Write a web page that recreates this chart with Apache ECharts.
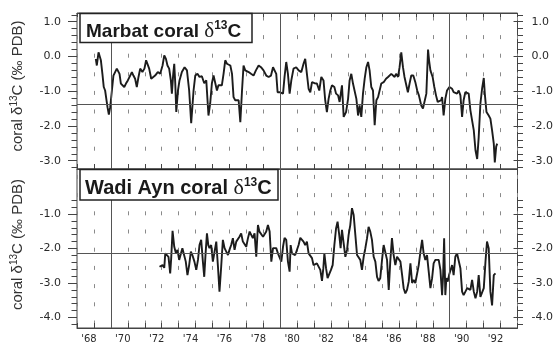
<!DOCTYPE html>
<html><head><meta charset="utf-8">
<script src="https://cdn.jsdelivr.net/npm/echarts@6/dist/echarts.min.js"></script>
<style>html,body{margin:0;padding:0;background:#fff}#c{width:556px;height:345px}</style>
</head><body><div id="c"></div><script>
// ---- data ----
const marbatYears = [
1968.11,1968.17,1968.27,1968.35,1968.41,1968.50,1968.58,1968.66,1968.72,1968.80,
1968.88,1968.96,1969.06,1969.15,1969.25,1969.35,1969.45,1969.51,1969.59,1969.69,
1969.79,1969.89,1970.00,1970.14,1970.24,1970.33,1970.43,1970.53,1970.63,1970.73,
1970.86,1970.98,1971.08,1971.18,1971.26,1971.38,1971.48,1971.61,1971.77,1971.91,
1972.05,1972.15,1972.25,1972.34,1972.44,1972.54,1972.60,1972.68,1972.74,1972.80,
1972.86,1972.96,1973.05,1973.19,1973.35,1973.49,1973.62,1973.74,1973.88,1973.98,
1974.11,1974.23,1974.37,1974.51,1974.63,1974.76,1974.86,1974.96,1975.06,1975.16,
1975.26,1975.35,1975.45,1975.55,1975.65,1975.75,1975.85,1975.94,1976.05,1976.15,
1976.24,1976.34,1976.44,1976.54,1976.64,1976.74,1976.83,1976.93,1977.03,1977.13,
1977.27,1977.42,1977.56,1977.72,1977.86,1978.01,1978.17,1978.31,1978.45,1978.57,
1978.66,1978.76,1978.84,1978.96,1979.06,1979.16,1979.25,1979.35,1979.45,1979.55,
1979.65,1979.78,1979.94,1980.08,1980.24,1980.37,1980.47,1980.57,1980.67,1980.77,
1980.87,1981.02,1981.16,1981.30,1981.42,1981.55,1981.65,1981.75,1981.85,1981.95,
1982.05,1982.19,1982.29,1982.41,1982.50,1982.64,1982.74,1982.88,1983.00,1983.09,
1983.19,1983.29,1983.39,1983.49,1983.59,1983.68,1983.78,1983.88,1983.98,1984.08,
1984.18,1984.27,1984.37,1984.47,1984.57,1984.67,1984.77,1984.86,1984.96,1985.10,
1985.24,1985.36,1985.45,1985.55,1985.65,1985.75,1985.83,1985.95,1986.04,1986.14,
1986.24,1986.33,1986.43,1986.53,1986.63,1986.73,1986.85,1986.97,1987.08,1987.18,
1987.32,1987.42,1987.52,1987.62,1987.72,1987.78,1987.86,1987.92,1987.99,1988.09,
1988.19,1988.29,1988.39,1988.49,1988.55,1988.64,1988.74,1988.84,1988.98,1989.14,
1989.23,1989.33,1989.43,1989.53,1989.63,1989.73,1989.82,1989.92,1990.03,1990.12,
1990.22,1990.32,1990.42,1990.52,1990.62,1990.71,1990.81,1990.91,1991.01,1991.07,
1991.17,1991.30,1991.40,1991.50,1991.60,1991.66,1991.74,1991.80];
const marbatD13C = [
-0.07,-0.26,0.12,0.17,-0.11,-0.50,-0.88,-0.98,-0.93,-1.46,
-1.67,-1.46,-0.98,-0.55,-0.50,-0.35,-0.31,-0.50,-0.78,-0.74,
-0.88,-0.78,-0.69,-0.55,-0.45,-0.55,-0.64,-0.88,-0.59,-0.35,
-0.45,-0.35,-0.11,-0.16,-0.35,-0.64,-0.69,-0.55,-0.45,-0.50,
-0.26,0.03,-0.07,-0.26,-0.35,-0.69,-1.07,-0.50,-0.21,-0.78,
-1.60,-0.98,-0.69,-0.45,-0.31,-0.40,-0.98,-1.92,-0.98,-0.55,
-0.50,-0.59,-0.57,-0.77,-0.69,-1.70,-1.36,-0.78,-0.55,-0.50,
-0.98,-0.83,-0.88,-0.83,-0.50,-0.11,-0.21,-0.16,-0.26,-0.50,
-1.17,-1.26,-1.22,-1.26,-1.89,-0.98,-0.26,-0.40,-0.35,-0.45,
-0.50,-0.55,-0.40,-0.26,-0.31,-0.40,-0.55,-0.59,-0.55,-0.31,
-0.26,-0.50,-1.03,-1.03,-0.98,-1.07,-0.59,-0.16,-0.50,-1.07,
-0.69,-0.35,-0.31,-0.40,-0.45,-0.21,-0.07,-0.50,-0.93,-1.03,
-0.74,-0.77,-0.78,-0.98,-0.59,-0.69,-1.26,-1.60,-1.22,-0.98,
-0.83,-0.88,-1.07,-1.12,-1.31,-0.83,-1.74,-1.60,-1.22,-0.69,
-0.50,-0.78,-0.83,-1.22,-1.70,-1.41,-1.74,-1.07,-0.64,-0.31,
-0.16,-0.40,-0.88,-0.98,-1.98,-1.26,-1.17,-1.12,-0.78,-0.74,
-0.64,-0.59,-0.55,-0.50,-0.45,-0.59,-0.50,-0.59,-0.31,0.12,
-0.31,-0.59,-0.64,-1.03,-0.78,-0.55,-0.55,-0.74,-0.98,-1.12,
-1.41,-1.50,-1.50,-1.07,0.20,-0.11,-0.40,-0.35,-0.59,-0.88,
-1.12,-1.31,-1.36,-1.26,-1.17,-1.70,-1.22,-0.98,-0.88,-0.93,
-1.03,-0.98,-1.07,-0.98,-1.12,-1.74,-1.26,-1.03,-0.98,-1.07,
-1.55,-1.60,-2.13,-2.70,-2.95,-2.32,-1.36,-0.93,-0.62,-1.07,
-1.60,-1.70,-1.79,-2.13,-2.51,-3.05,-2.60,-2.51];

const wadiYears = [
1971.87,1971.95,1972.05,1972.15,1972.21,1972.31,1972.40,1972.50,1972.56,1972.64,
1972.74,1972.84,1972.93,1973.03,1973.13,1973.22,1973.32,1973.42,1973.52,1973.62,
1973.72,1973.81,1973.93,1974.04,1974.14,1974.23,1974.33,1974.43,1974.51,1974.59,
1974.67,1974.75,1974.82,1974.92,1975.02,1975.12,1975.22,1975.32,1975.41,1975.51,
1975.61,1975.71,1975.81,1975.91,1976.00,1976.10,1976.20,1976.30,1976.40,1976.50,
1976.59,1976.69,1976.79,1976.89,1976.99,1977.09,1977.19,1977.29,1977.38,1977.48,
1977.58,1977.68,1977.77,1977.87,1977.98,1978.07,1978.17,1978.27,1978.37,1978.47,
1978.57,1978.66,1978.76,1978.86,1978.96,1979.06,1979.16,1979.25,1979.35,1979.45,
1979.55,1979.61,1979.69,1979.78,1979.88,1979.98,1980.08,1980.18,1980.28,1980.37,
1980.47,1980.57,1980.67,1980.77,1980.87,1980.96,1981.06,1981.16,1981.26,1981.36,
1981.46,1981.54,1981.60,1981.70,1981.79,1981.89,1981.99,1982.09,1982.19,1982.29,
1982.38,1982.48,1982.56,1982.64,1982.74,1982.84,1982.94,1983.03,1983.13,1983.23,
1983.33,1983.43,1983.53,1983.62,1983.72,1983.82,1983.92,1984.02,1984.12,1984.21,
1984.31,1984.41,1984.51,1984.61,1984.71,1984.80,1984.90,1985.01,1985.10,1985.20,
1985.30,1985.40,1985.49,1985.59,1985.69,1985.79,1985.89,1985.99,1986.09,1986.19,
1986.28,1986.38,1986.48,1986.58,1986.68,1986.78,1986.87,1986.97,1987.07,1987.17,
1987.27,1987.37,1987.46,1987.56,1987.66,1987.76,1987.86,1987.96,1988.05,1988.15,
1988.25,1988.35,1988.45,1988.55,1988.61,1988.67,1988.74,1988.80,1988.88,1988.96,
1989.04,1989.14,1989.23,1989.33,1989.43,1989.53,1989.63,1989.73,1989.82,1989.92,
1990.03,1990.12,1990.22,1990.32,1990.42,1990.52,1990.62,1990.71,1990.81,1990.91,
1991.01,1991.11,1991.20,1991.30,1991.40,1991.50,1991.60,1991.70];
const wadiD13C = [
-2.53,-2.57,-2.48,-2.56,-2.14,-2.09,-2.24,-2.72,-2.28,-1.49,
-1.95,-2.14,-2.04,-2.33,-2.38,-1.99,-1.98,-2.38,-2.77,-2.48,
-2.09,-2.19,-2.38,-2.62,-2.33,-1.90,-1.75,-2.38,-2.82,-2.14,
-1.56,-1.90,-1.99,-1.90,-2.38,-2.09,-1.80,-2.53,-3.25,-2.53,
-1.75,-1.99,-2.09,-2.19,-2.04,-1.90,-1.70,-2.04,-1.80,-1.85,
-1.66,-1.56,-1.80,-1.75,-1.95,-1.70,-1.51,-1.61,-1.70,-1.56,
-2.24,-1.32,-1.51,-1.46,-1.66,-1.70,-1.51,-1.32,-1.51,-2.38,
-1.99,-2.04,-1.99,-2.14,-2.19,-2.38,-1.95,-1.69,-1.75,-2.38,
-2.67,-1.90,-2.14,-2.09,-2.19,-2.14,-1.90,-1.69,-1.66,-1.80,
-1.90,-1.80,-2.14,-2.19,-2.28,-2.48,-2.53,-2.43,-2.38,-2.62,
-2.94,-2.57,-2.14,-2.57,-2.86,-2.91,-2.62,-2.48,-1.90,-1.42,
-1.22,-1.61,-1.99,-1.46,-1.85,-2.24,-2.04,-1.61,-1.32,-0.83,
-1.03,-1.61,-2.19,-2.14,-2.33,-2.62,-2.24,-1.99,-1.70,-1.37,
-1.51,-1.75,-2.24,-2.38,-2.82,-2.94,-2.86,-2.30,-1.90,-1.85,
-2.33,-3.20,-2.38,-1.70,-2.19,-2.48,-2.24,-2.28,-2.38,-2.77,
-3.15,-3.30,-3.20,-2.96,-2.43,-3.00,-2.91,-3.00,-2.96,-2.48,
-2.09,-1.75,-2.14,-2.33,-2.19,-2.67,-3.15,-2.86,-2.43,-2.33,
-2.38,-2.33,-2.62,-3.35,-2.77,-1.70,-3.35,-2.86,-2.96,-2.77,
-2.82,-2.48,-2.77,-2.24,-2.14,-2.14,-2.57,-3.25,-3.35,-3.30,
-3.15,-3.10,-3.20,-2.91,-3.25,-3.44,-3.25,-2.77,-3.40,-3.44,
-3.15,-2.38,-1.80,-1.99,-3.25,-3.65,-2.77,-2.72];

const xLabelYears = [1968,1970,1972,1974,1976,1978,1980,1982,1984,1986,1988,1990,1992];
const solidYears = [1969, 1979, 1989];
const marbatRef = -1.38;
const wadiRef = -2.13;
const yearMin = 1967, yearMax = 1993;

// ---- layout ----
const L = 77, R = 38.5;
const frame = '#444', tickC = '#444', txt = '#2a2a2a';

function pairs(xs, ys){ return xs.map((x,i)=>[x, ys[i]]); }

const grids = [
  {left:L, right:R, top:13,    height:156,   show:true, borderColor:frame, borderWidth:1},
  {left:L, right:R, top:169,   height:159,   show:true, borderColor:frame, borderWidth:1},
  {left:L, right:R, top:21.7,  height:139},
  {left:L, right:R, top:14.75, height:152.9},
  {left:L, right:R, top:214,   height:103.5},
  {left:L, right:R, top:200.2, height:124.2}
];

const dashTop = {show:true, lineStyle:{color:'#8a8a8a', width:1, type:[4,14.6], dashOffset:15.1}};
const dashBot = {show:true, lineStyle:{color:'#8a8a8a', width:1, type:[4,14.2], dashOffset:12.3}};

const xBase = {type:'value', min:yearMin, max:yearMax, interval:1};
const axLine = {show:true, onZero:false, lineStyle:{color:frame}};
const xAxes = [
  Object.assign({}, xBase, {gridIndex:0, position:'bottom', axisLine:axLine,
    axisTick:{show:true, inside:true, length:5, lineStyle:{color:tickC}},
    axisLabel:{show:false}, splitLine:dashTop}),
  Object.assign({}, xBase, {gridIndex:0, position:'top', axisLine:axLine,
    axisTick:{show:true, inside:true, length:4, lineStyle:{color:tickC}},
    axisLabel:{show:false}, splitLine:{show:false}}),
  Object.assign({}, xBase, {gridIndex:1, position:'bottom', axisLine:axLine,
    axisTick:{show:true, inside:true, length:5, lineStyle:{color:tickC}},
    axisLabel:{show:true, margin:6, fontSize:10, fontFamily:'DejaVu Sans', color:txt, padding:[0,10,0,0],
      formatter: v => xLabelYears.indexOf(Math.round(v)) >= 0 ? "'" + String(Math.round(v)).slice(2) : ''},
    splitLine:dashBot}),
  Object.assign({}, xBase, {gridIndex:2, show:false}),
  Object.assign({}, xBase, {gridIndex:3, show:false}),
  Object.assign({}, xBase, {gridIndex:4, show:false}),
  Object.assign({}, xBase, {gridIndex:5, show:false})
];

function majorAxis(grid, pos, min, max){
  return {type:'value', gridIndex:grid, position:pos, min:min, max:max, interval:1,
    axisLine:{show:false, onZero:false}, splitLine:{show:false},
    axisTick:{show:true, inside:false, length:9, lineStyle:{color:tickC}},
    axisLabel:{show:true, margin: pos==='left'?16:18, fontSize:11, fontFamily:'DejaVu Sans', color:txt,
      formatter: v => v.toFixed(1)}};
}
function minorAxis(grid, pos, min, max){
  return {type:'value', gridIndex:grid, position:pos, min:min, max:max, interval:0.2,
    axisLine:{show:false, onZero:false}, splitLine:{show:false},
    axisTick:{show:true, inside:false, length:5.5, lineStyle:{color:tickC}},
    axisLabel:{show:false}};
}

const yAxes = [
  {type:'value', gridIndex:0, min:-3.239, max:1.2504, show:false},
  {type:'value', gridIndex:1, min:-4.304, max:0.3043, show:false},
  majorAxis(2,'left',-3,1), majorAxis(2,'right',-3,1),
  minorAxis(3,'left',-3.2,1.2), minorAxis(3,'right',-3.2,1.2),
  majorAxis(4,'left',-4,-1), majorAxis(4,'right',-4,-1),
  minorAxis(5,'left',-4.2,-0.6), minorAxis(5,'right',-4.2,-0.6)
];

function marks(ref){
  return {silent:true, symbol:'none', label:{show:false},
    lineStyle:{color:'#555', width:1, type:'solid'},
    data: solidYears.map(y=>({xAxis:y})).concat([{yAxis:ref}])};
}

const series = [
  {type:'line', xAxisIndex:0, yAxisIndex:0, data:pairs(marbatYears, marbatD13C),
    showSymbol:false, symbol:'none', lineStyle:{color:'#1c1c1c', width:1.9}, z:3,
    markLine:marks(marbatRef)},
  {type:'line', xAxisIndex:2, yAxisIndex:1, data:pairs(wadiYears, wadiD13C),
    showSymbol:false, symbol:'none', lineStyle:{color:'#1c1c1c', width:1.9}, z:3,
    markLine:marks(wadiRef)}
];

function titleBox(x, y, w, h, tx, ty, name, fs){
  return [
    {type:'rect', z:100, shape:{x:x, y:y, width:w, height:h},
      style:{fill:'#fff', stroke:'#222', lineWidth:1.5}},
    {type:'text', z:101, x:tx, y:ty,
      style:{text:'{b|' + name + ' }{d|δ}{s|13}{b|C}', textAlign:'left', textVerticalAlign:'middle',
        rich:{
          b:{fontFamily:'Liberation Sans', fontWeight:'bold', fontSize:fs, lineHeight:24, fill:'#1a1a1a'},
          d:{fontFamily:'Liberation Serif', fontSize:fs+2, lineHeight:24, fill:'#1a1a1a'},
          s:{fontFamily:'Liberation Sans', fontWeight:'bold', fontSize:12, lineHeight:18, verticalAlign:'top', fill:'#1a1a1a'}
        }}}
  ];
}
function yName(cy){
  return {type:'text', z:101, x:18, y:cy, rotation:Math.PI/2,
    style:{text:'{n|coral δ}{s|13}{n|C (‰ PDB)}', textAlign:'center', textVerticalAlign:'middle',
      rich:{
        n:{fontFamily:'Liberation Sans', fontSize:15, lineHeight:18, fill:'#333'},
        s:{fontFamily:'Liberation Sans', fontSize:10, lineHeight:12, verticalAlign:'top', fill:'#333'}
      }}};
}

const graphic = []
  .concat(titleBox(80, 13.5, 172, 29, 86, 31.5, 'Marbat coral', 19))
  .concat(titleBox(80, 169.5, 198, 30.5, 85, 188.5, 'Wadi Ayn coral', 20))
  .concat([yName(86), yName(244.5)]);

const chart = echarts.init(document.getElementById('c'), null, {renderer:'canvas'});
chart.setOption({
  animation:false,
  backgroundColor:'#fff',
  grid:grids, xAxis:xAxes, yAxis:yAxes, series:series, graphic:graphic
});
</script></body></html>
